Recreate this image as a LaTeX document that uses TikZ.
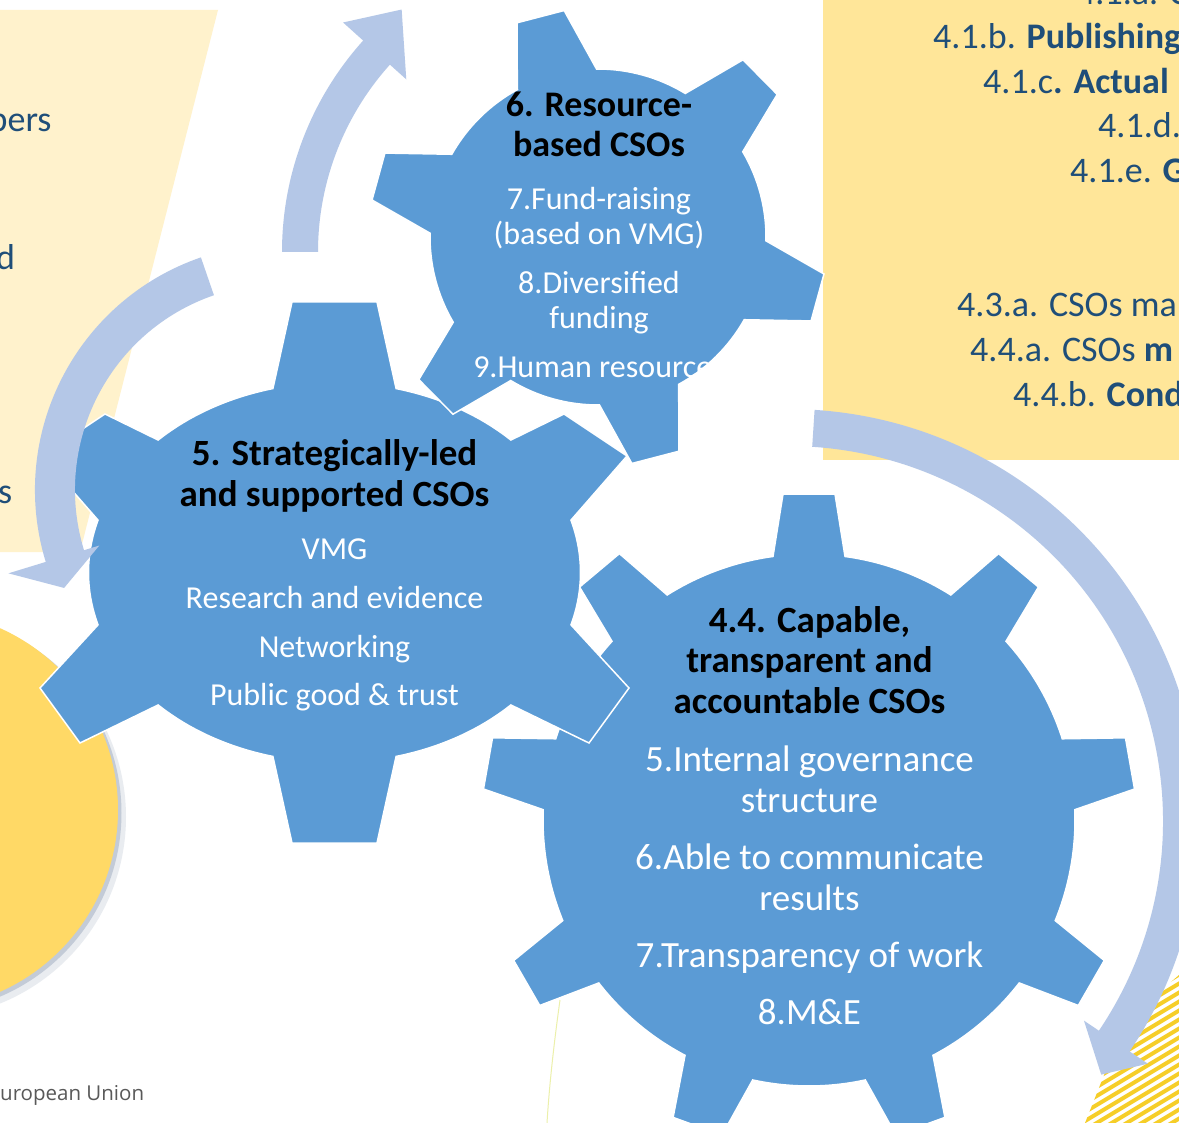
\documentclass[tikz,border=0pt]{standalone}
\usepackage{fontspec}
\setmainfont{Carlito}
\newfontfamily\footfont{Open Sans}
\definecolor{gearblue}{RGB}{91,155,213}
\definecolor{arrowblue}{RGB}{180,199,231}
\definecolor{panelyellow}{RGB}{255,230,153}
\definecolor{paleyellow}{RGB}{255,242,204}
\definecolor{circyellow}{RGB}{255,217,102}
\definecolor{textblue}{RGB}{31,78,121}
\definecolor{footgray}{RGB}{89,89,89}
\definecolor{shadowcol}{RGB}{110,130,160}
\definecolor{stripeyellow}{RGB}{246,206,40}
\definecolor{faintline}{RGB}{236,240,170}
\begin{document}
\begin{tikzpicture}[x=1pt,y=-1pt,
  gearshape/.style={fill=gearblue, draw=white, line width=1.5pt, line join=miter},
  arrowband/.style={fill=arrowblue},
  gtitle/.style={font=\fontsize{37}{40}\selectfont\bfseries, text=black, inner sep=0pt, anchor=base},
  gtitlesmall/.style={font=\fontsize{36}{40}\selectfont\bfseries, text=black, inner sep=0pt, anchor=base},
  gitem/.style={font=\fontsize{32}{36}\selectfont, text=white, inner sep=0pt, anchor=base},
  gitembig/.style={font=\fontsize{37}{40}\selectfont, text=white, inner sep=0pt, anchor=base},
  paneltext/.style={font=\fontsize{36}{40}\selectfont, text=textblue, inner sep=0pt, anchor=base west},
  foottext/.style={font=\footfont\fontsize{20.5}{24}\selectfont, text=footgray, inner sep=0pt, anchor=base west}]
\useasboundingbox (0,0) rectangle (1179,1123);
\clip (0,0) rectangle (1179,1123);
\fill[white] (0,0) rectangle (1179,1123);

% panels
\fill[paleyellow] (0,10) -- (218,10) -- (80,552) -- (0,552) -- cycle;
\fill[panelyellow] (823,0) rectangle (1179,460);

% stripes bottom right
\begin{scope}
  \clip (1085,1123) -- (1110,1060) -- (1150,1000) -- (1179,975) -- (1179,1123) -- cycle;
  \foreach \i in {0,...,40} {
    \draw[stripeyellow, line width=4pt] (1040,950+\i*9) -- ++(180,-108);
  }
\end{scope}
\draw[faintline, line width=1pt] (560,1000) .. controls (553,1050) and (549,1090) .. (547,1123);

% panel texts
\node[paneltext] (lp1) at (-11.5,132) {bers};
\node[paneltext] (lp2) at (-4,270) {d};
\node[paneltext] (lp3) at (-2,503) {s};

\node[paneltext] (rp0) at (1077,5) {4.1.a. C};
\node[paneltext] (rp1) at (933,49) {4.1.b. \textbf{Publishing}};
\node[paneltext] (rp2) at (983,94) {4.1.c\textbf{. Actual}};
\node[paneltext] (rp3) at (1098,138) {4.1.d.};
\node[paneltext] (rp4) at (1070,183) {4.1.e. \textbf{G}};
\node[paneltext] (rp5) at (957,317) {4.3.a. CSOs ma};
\node[paneltext] (rp6) at (970,362) {4.4.a. CSOs \textbf{m}};
\node[paneltext] (rp7) at (1013,407) {4.4.b. \textbf{Cond}};

% yellow circle with shadow
\fill[shadowcol, opacity=0.15] (-75,817) circle[radius=201];
\fill[shadowcol, opacity=0.30] (-78,813) circle[radius=199.5];
\fill[circyellow] (-81,810) circle[radius=199];

% gear 4.4 (nine teeth)
\begin{scope}[shift={(809,820)}]
  \path[gearshape] (-97.78:266)
    \foreach \a in {-90,-50,...,230} {
      -- ({\a-4.56}:327) -- ({\a+4.56}:327) -- ({\a+7.78}:266)
      arc[start angle=\a+7.78, end angle=\a+32.22, radius=266]
    } -- cycle;
\end{scope}

% gear 5 (six teeth)
\begin{scope}[shift={(334.5,572.5)}]
  \path[gearshape] ({246*cos(-104.5)},{190*sin(-104.5)})
    -- (-42.5,-270.5) -- (42.5,-270.5)
    -- ({246*cos(-75.5)},{190*sin(-75.5)})
    arc[start angle=-75.5, end angle=-44.2, x radius=246, y radius=190]
    -- (229.5,-158.5) -- (292.5,-116.5)
    -- ({246*cos(-16)},{190*sin(-16)})
    arc[start angle=-16, end angle=16, x radius=246, y radius=190]
    -- (294.5,115.5) -- (254.5,170.5)
    -- ({246*cos(44.2)},{190*sin(44.2)})
    arc[start angle=44.2, end angle=75.5, x radius=246, y radius=190]
    -- (42.5,270.5) -- (-42.5,270.5)
    -- ({246*cos(104.5)},{190*sin(104.5)})
    arc[start angle=104.5, end angle=135.8, x radius=246, y radius=190]
    -- (-254.5,170.5) -- (-294.5,115.5)
    -- ({246*cos(164)},{190*sin(164)})
    arc[start angle=164, end angle=196, x radius=246, y radius=190]
    -- (-292.5,-116.5) -- (-229.5,-158.5)
    -- ({246*cos(224.2)},{190*sin(224.2)})
    arc[start angle=224.2, end angle=255.5, x radius=246, y radius=190]
    -- cycle;
\end{scope}

% gear 6 (six teeth, rotated)
\begin{scope}[shift={(598,237)}]
  \path[gearshape] (-118.7:168)
    \foreach \a in {-104.6,-44.6,15.4,75.4,135.4,195.4} {
      -- ({\a-6.1}:229) -- ({\a+6.1}:229) -- ({\a+14.1}:168)
      arc[start angle=\a+14.1, end angle=\a+45.9, radius=168]
    } -- cycle;
\end{scope}

% gear texts
\node[gtitlesmall] (g6a) at (599,117) {6. Resource-};
\node[gtitlesmall] (g6b) at (599,157) {based CSOs};
\node[gitem] (g6c) at (599,210) {7.Fund-raising};
\node[gitem] (g6d) at (599,245) {(based on VMG)};
\node[gitem] (g6e) at (599,294) {8.Diversified};
\node[gitem] (g6f) at (599,329) {funding};
\node[gitem] (g6g) at (599,378) {9.Human resources};

\node[gtitle] (g5a) at (334.5,465) {5. Strategically-led};
\node[gtitle] (g5b) at (334.5,506) {and supported CSOs};
\node[gitem] (g5c) at (334.5,559.5) {VMG};
\node[gitem] (g5d) at (334.5,608.5) {Research and evidence};
\node[gitem] (g5e) at (334.5,657) {Networking};
\node[gitem] (g5f) at (334.5,705.5) {Public good \& trust};

\node[gtitle] (g4a) at (809.5,632) {4.4. Capable,};
\node[gtitle] (g4b) at (809.5,672.5) {transparent and};
\node[gtitle] (g4c) at (809.5,713) {accountable CSOs};
\node[gitembig] (g4d) at (809.5,771) {5.Internal governance};
\node[gitembig] (g4e) at (809.5,812) {structure};
\node[gitembig] (g4f) at (809.5,869) {6.Able to communicate};
\node[gitembig] (g4g) at (809.5,910) {results};
\node[gitembig] (g4h) at (809.5,967) {7.Transparency of work};
\node[gitembig] (g4i) at (809.5,1024) {8.M\&E};

% circular arrows
\begin{scope}[shift={(598,252)}]
  \fill[arrowband] (180:316) arc[start angle=180, end angle=222, radius=316]
    -- (222:343) -- (231:312) -- (222:258) -- (222:280)
    arc[start angle=222, end angle=180, radius=280] -- cycle;
\end{scope}
\begin{scope}[shift={(281,490)}]
  \fill[arrowband] (251:246) arc[start angle=251, end angle=163, radius=246]
    -- (163:285) -- (155.7:238) -- (163:190) -- (163:206)
    arc[start angle=163, end angle=251, radius=206] -- cycle;
\end{scope}
\begin{scope}[shift={(788,821)}]
  \fill[arrowband] (-86.3:412) arc[start angle=-86.3, end angle=34, radius=412]
    -- (34:434) -- (39:403) -- (34:357) -- (34:375)
    arc[start angle=34, end angle=-86.3, radius=375] -- cycle;
\end{scope}

% footer
\node[foottext] (foot) at (0,1100) {uropean Union};
\end{tikzpicture}
\end{document}
